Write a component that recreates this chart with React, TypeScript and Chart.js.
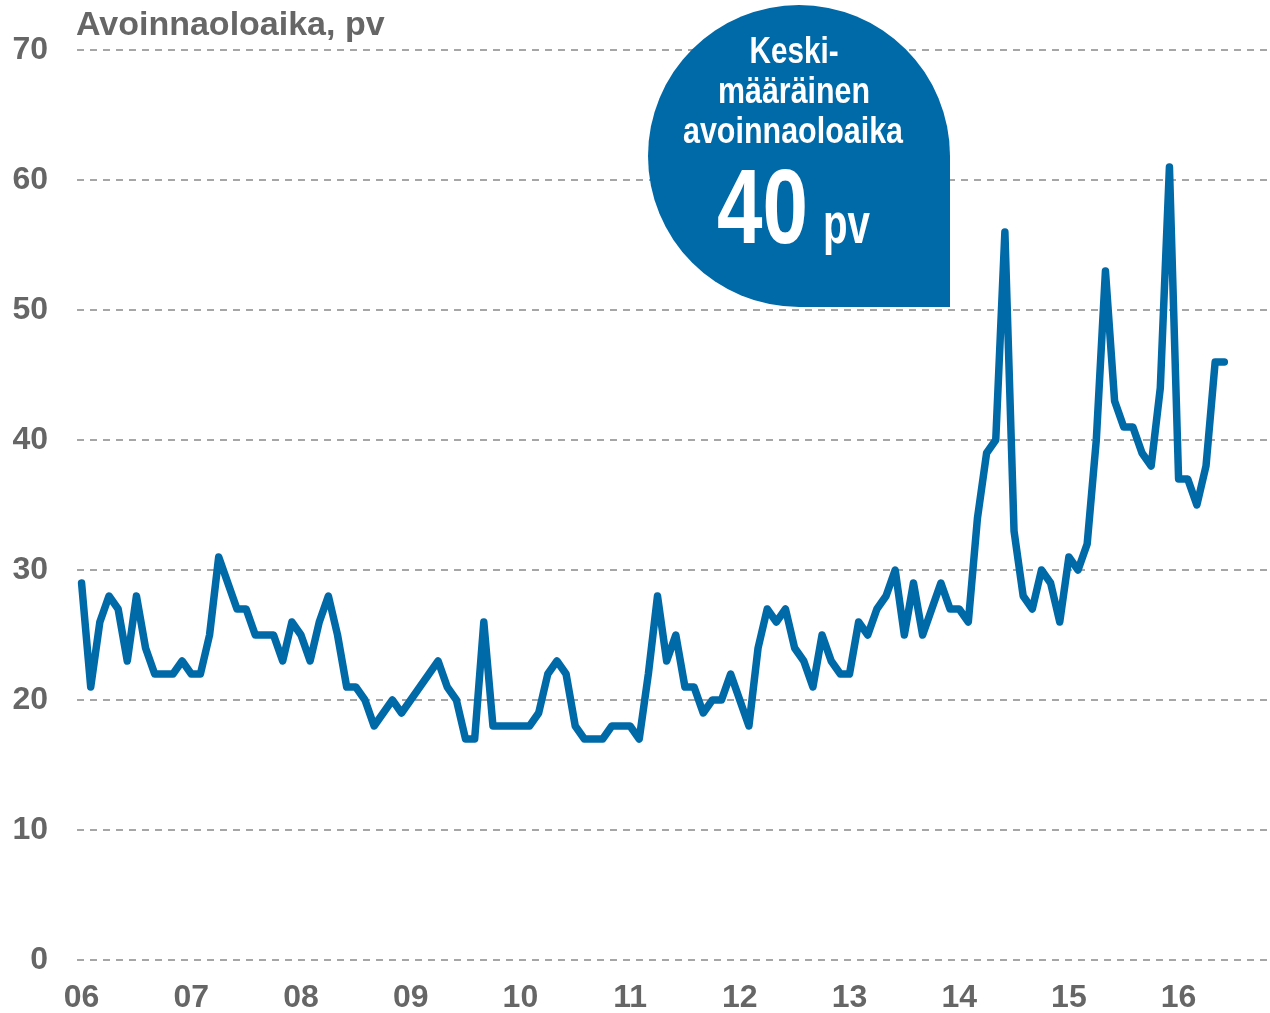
import React, { useEffect, useRef } from "react";
import { Chart, registerables } from "chart.js";

Chart.register(...registerables);

// ---- Data ----
const yearLabels = ["06", "07", "08", "09", "10", "11", "12", "13", "14", "15", "16"];
const y2006 = [29, 21, 26, 28, 27, 23, 28, 24, 22, 22, 22, 23];
const y2007 = [22, 22, 25, 31, 29, 27, 27, 25, 25, 25, 23, 26];
const y2008 = [25, 23, 26, 28, 25, 21, 21, 20, 18, 19, 20, 19];
const y2009 = [20, 21, 22, 23, 21, 20, 17, 17, 26, 18, 18, 18];
const y2010 = [18, 18, 19, 22, 23, 22, 18, 17, 17, 17, 18, 18];
const y2011 = [18, 17, 22, 28, 23, 25, 21, 21, 19, 20, 20, 22];
const y2012 = [20, 18, 24, 27, 26, 27, 24, 23, 21, 25, 23, 22];
const y2013 = [22, 26, 25, 27, 28, 30, 25, 29, 25, 27, 29, 27];
const y2014 = [27, 26, 34, 39, 40, 56, 33, 28, 27, 30, 29, 26];
const y2015 = [31, 30, 32, 40, 53, 43, 41, 41, 39, 38, 44, 61];
const y2016 = [37, 37, 35, 38, 46, 46];
const yearSeries = [y2006, y2007, y2008, y2009, y2010, y2011, y2012, y2013, y2014, y2015, y2016];

const yMin = 0;
const yMax = 70;
const yStep = 10;

const titleText = "Avoinnaoloaika, pv";
const bubbleLines = ["Keski-", "määräinen", "avoinnaoloaika"];
const bubbleValue = "40";
const bubbleUnit = "pv";

// ---- Styles ----
const BLUE = "#0069a8";
const GREY = "#666666";
const GRID = "#a6a6a6";
const FONT = "'Liberation Sans', Arial, sans-serif";

function fitText(ctx: CanvasRenderingContext2D, text: string, cx: number, baseline: number, size: number, width: number) {
  ctx.font = `bold ${size}px ${FONT}`;
  const w = ctx.measureText(text).width;
  const s = width / w;
  ctx.save();
  ctx.translate(cx, baseline);
  ctx.scale(s, 1);
  ctx.textAlign = "center";
  ctx.textBaseline = "alphabetic";
  ctx.fillText(text, 0, 0);
  ctx.restore();
}

const overlayPlugin = {
  id: "overlay",
  afterDraw(chart: any) {
    const ctx: CanvasRenderingContext2D = chart.ctx;
    ctx.save();
    // title
    ctx.fillStyle = GREY;
    ctx.font = `bold 34px ${FONT}`;
    ctx.textAlign = "left";
    ctx.textBaseline = "alphabetic";
    ctx.fillText(titleText, 76, 35);

    // bubble
    const cx = 799;
    const cy = 156;
    const r = 151;
    ctx.beginPath();
    ctx.moveTo(cx + r, cy);
    ctx.lineTo(cx + r, cy + r);
    ctx.lineTo(cx, cy + r);
    ctx.arc(cx, cy, r, Math.PI / 2, Math.PI * 2, false);
    ctx.closePath();
    ctx.fillStyle = BLUE;
    ctx.fill();

    ctx.fillStyle = "#ffffff";
    fitText(ctx, bubbleLines[0], 794, 63, 36, 89);
    fitText(ctx, bubbleLines[1], 794, 103, 36, 152);
    fitText(ctx, bubbleLines[2], 793, 143, 36, 220);
    fitText(ctx, bubbleValue, 762.5, 243, 106, 91);
    fitText(ctx, bubbleUnit, 846.5, 243, 58, 47);
    ctx.restore();
  },
};

export default function App() {
  const canvasRef = useRef<HTMLCanvasElement | null>(null);

  useEffect(() => {
    const canvas = canvasRef.current;
    if (!canvas) return;

    const points: { x: number; y: number }[] = [];
    yearSeries.forEach((arr, yi) => {
      arr.forEach((v, mi) => points.push({ x: yi * 12 + mi, y: v }));
    });

    const chart = new Chart(canvas, {
      type: "line",
      data: {
        datasets: [
          {
            data: points,
            borderColor: BLUE,
            borderWidth: 7.5,
            pointRadius: 0,
            tension: 0,
            borderJoinStyle: "round",
            borderCapStyle: "round",
            fill: false,
          },
        ],
      },
      options: {
        animation: false,
        responsive: false,
        devicePixelRatio: 1,
        layout: { padding: { top: 50, left: 0, right: 0, bottom: 0 } },
        plugins: { legend: { display: false }, tooltip: { enabled: false }, title: { display: false } },
        scales: {
          x: {
            type: "linear",
            min: -0.5,
            max: 130,
            grid: { display: false, drawTicks: false },
            border: { display: false },
            afterBuildTicks: (scale: any) => {
              scale.ticks = yearLabels.map((_, k) => ({ value: k * 12 }));
            },
            afterFit: (scale: any) => {
              scale.height = 53;
            },
            ticks: {
              autoSkip: false,
              maxRotation: 0,
              padding: 19,
              color: GREY,
              font: { family: FONT, size: 32, weight: "bold" },
              callback: (v: any) => yearLabels[Math.round(Number(v) / 12)] ?? "",
            },
          },
          y: {
            min: yMin,
            max: yMax,
            grid: { color: GRID, lineWidth: 2, drawTicks: false },
            border: { display: false, dash: [7, 6] },
            afterFit: (scale: any) => {
              scale.width = 77;
            },
            ticks: {
              stepSize: yStep,
              padding: 29,
              color: GREY,
              font: { family: FONT, size: 32, weight: "bold" },
            },
          },
        },
      },
      plugins: [overlayPlugin],
    } as any);

    return () => chart.destroy();
  }, []);

  return (
    <div style={{ position: "absolute", left: 0, top: 0, width: 1270, height: 1013, background: "#ffffff" }}>
      <canvas ref={canvasRef} width={1270} height={1013} style={{ display: "block", width: 1270, height: 1013 }} />
    </div>
  );
}
